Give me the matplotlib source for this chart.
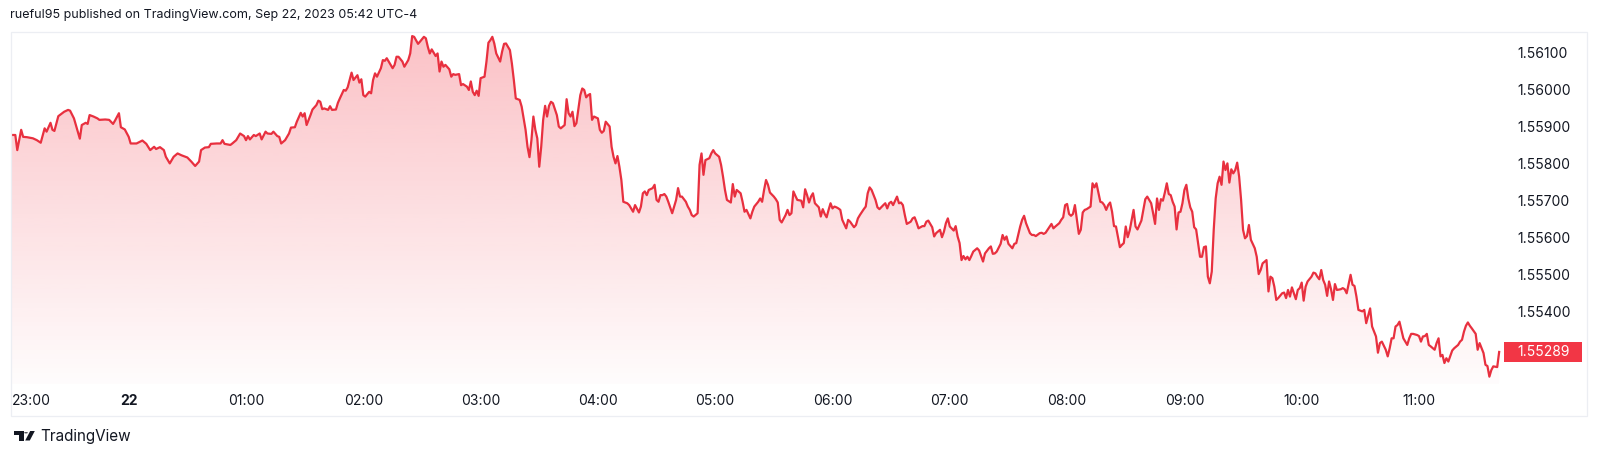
import matplotlib
matplotlib.use("Agg")
import matplotlib.pyplot as plt
import matplotlib.dates as mdates
import numpy as np
from datetime import datetime, timedelta
from matplotlib.patches import Rectangle, Polygon, Circle
from matplotlib.transforms import blended_transform_factory

# ---------------- data ----------------
title_text = "rueful95 published on TradingView.com, Sep 22, 2023 05:42 UTC-4"
brand_text = "TradingView"

times = [
    "23:00", "23:02", "23:03", "23:05", "23:06", "23:08", "23:11", "23:13", "23:15", "23:17",
    "23:18", "23:20", "23:21", "23:22", "23:24", "23:27", "23:29", "23:30", "23:32", "23:33",
    "23:35", "23:36", "23:38", "23:39", "23:40", "23:42", "23:44", "23:45", "23:48", "23:50",
    "23:52", "23:53", "23:55", "23:56", "23:58", "00:00", "00:01", "00:04", "00:07", "00:09",
    "00:11", "00:13", "00:14", "00:16", "00:18", "00:19", "00:21", "00:23", "00:25", "00:27",
    "00:29", "00:30", "00:32", "00:34", "00:36", "00:37", "00:39", "00:41", "00:42", "00:45",
    "00:47", "00:48", "00:49", "00:52", "00:53", "00:55", "00:57", "00:59", "01:00", "01:01",
    "01:02", "01:04", "01:05", "01:07", "01:08", "01:10", "01:11", "01:13", "01:14", "01:16",
    "01:17", "01:18", "01:20", "01:22", "01:23", "01:25", "01:26", "01:28", "01:29", "01:30",
    "01:31", "01:33", "01:34", "01:36", "01:37", "01:38", "01:39", "01:40", "01:42", "01:43",
    "01:44", "01:46", "01:47", "01:48", "01:50", "01:51", "01:52", "01:54", "01:55", "01:57",
    "01:58", "01:59", "02:00", "02:01", "02:03", "02:04", "02:05", "02:06", "02:07", "02:09",
    "02:10", "02:11", "02:12", "02:14", "02:15", "02:16", "02:17", "02:18",
    "02:20", "02:21", "02:23", "02:24", "02:25", "02:26", "02:28", "02:29", "02:31", "02:32",
    "02:33", "02:34", "02:35", "02:37", "02:38", "02:39", "02:40", "02:41", "02:42", "02:44",
    "02:45", "02:46", "02:47", "02:49", "02:50", "02:51", "02:53", "02:54", "02:55", "02:56",
    "02:57", "02:58", "02:59", "03:00", "03:02", "03:03", "03:04", "03:05", "03:06", "03:07",
    "03:08", "03:10", "03:11", "03:12", "03:13", "03:15", "03:16", "03:17", "03:18", "03:20",
    "03:21", "03:23", "03:24", "03:25", "03:26", "03:27", "03:28", "03:29", "03:30", "03:31",
    "03:32", "03:33", "03:34", "03:35", "03:36", "03:37", "03:39", "03:40", "03:41", "03:43",
    "03:44", "03:45", "03:46", "03:47", "03:48", "03:49", "03:51", "03:52", "03:53", "03:54",
    "03:55", "03:56", "03:57", "03:58", "04:00", "04:01", "04:02", "04:03", "04:04", "04:06",
    "04:07", "04:08", "04:09", "04:10", "04:11", "04:12", "04:13", "04:15", "04:16", "04:17",
    "04:18", "04:19", "04:21", "04:22", "04:23", "04:24", "04:25", "04:26", "04:28", "04:29",
    "04:30", "04:31", "04:32", "04:33", "04:34", "04:35", "04:36", "04:38", "04:39", "04:40",
    "04:41", "04:42", "04:43", "04:45", "04:46", "04:47", "04:48", "04:49", "04:51", "04:52",
    "04:53", "04:54", "04:55", "04:57", "04:58", "04:59", "05:00", "05:02", "05:03", "05:04",
    "05:05", "05:06", "05:08", "05:09", "05:10", "05:11", "05:13", "05:14", "05:15", "05:16",
    "05:18", "05:19", "05:20", "05:22", "05:23", "05:24", "05:25", "05:26", "05:27", "05:28",
    "05:30", "05:31", "05:32",
    "05:33", "05:34", "05:36", "05:37", "05:38", "05:39", "05:40", "05:41", "05:42", "05:44",
    "05:45", "05:46", "05:47", "05:48", "05:49", "05:50", "05:51", "05:53", "05:54", "05:55",
    "05:56", "05:57", "05:58", "05:59", "06:00", "06:01", "06:02", "06:03", "06:04", "06:05",
    "06:07", "06:08", "06:09", "06:11", "06:12", "06:13", "06:14", "06:16", "06:17", "06:18",
    "06:19", "06:20", "06:22", "06:23", "06:24", "06:26", "06:27", "06:28", "06:29", "06:30",
    "06:31", "06:33", "06:34", "06:35", "06:36", "06:37", "06:38", "06:40", "06:41", "06:42",
    "06:43", "06:44", "06:46", "06:47", "06:48", "06:49", "06:51", "06:52", "06:53", "06:55",
    "06:56", "06:57", "06:58", "06:59", "07:00", "07:02", "07:03", "07:04", "07:05", "07:06",
    "07:07", "07:08", "07:09", "07:10", "07:11", "07:12", "07:14", "07:15", "07:16", "07:17",
    "07:18", "07:20", "07:21", "07:22", "07:23", "07:24", "07:26", "07:27", "07:28", "07:29",
    "07:30", "07:32", "07:33", "07:34", "07:36", "07:37", "07:38", "07:39", "07:41", "07:42",
    "07:43", "07:44", "07:46", "07:47", "07:48", "07:49", "07:50", "07:52", "07:53", "07:54",
    "07:56",
    "07:57", "07:58", "07:59", "08:00", "08:01", "08:02", "08:03", "08:04", "08:06", "08:07",
    "08:08", "08:09", "08:10", "08:12", "08:13", "08:14", "08:15", "08:17", "08:18", "08:19",
    "08:20", "08:21", "08:22", "08:23", "08:24", "08:25", "08:27", "08:28", "08:29", "08:30",
    "08:31", "08:32", "08:34", "08:35", "08:36", "08:37", "08:38", "08:39", "08:40", "08:41",
    "08:43", "08:44", "08:45", "08:46", "08:47", "08:48", "08:49", "08:50", "08:51", "08:52",
    "08:53", "08:54", "08:55", "08:56", "08:57", "08:58", "08:59", "09:00", "09:01", "09:02",
    "09:03", "09:04", "09:05", "09:06", "09:07", "09:08", "09:09", "09:10", "09:11", "09:12",
    "09:13", "09:14", "09:15", "09:16", "09:17", "09:18", "09:19", "09:20", "09:21", "09:22",
    "09:23", "09:24", "09:25", "09:26", "09:27", "09:28", "09:29", "09:30", "09:31", "09:32",
    "09:33", "09:34", "09:36", "09:37", "09:38", "09:39", "09:40", "09:42", "09:43", "09:44",
    "09:45", "09:46", "09:47", "09:48", "09:50", "09:51", "09:52", "09:53", "09:54", "09:55",
    "09:57", "09:58", "09:59", "10:00", "10:01", "10:02", "10:03", "10:05", "10:06", "10:07",
    "10:08", "10:09", "10:10", "10:11", "10:12", "10:13", "10:14", "10:15", "10:16", "10:17",
    "10:18", "10:20", "10:21", "10:22", "10:23", "10:25", "10:26", "10:27", "10:28", "10:29",
    "10:31", "10:32", "10:33", "10:34", "10:35", "10:36", "10:38", "10:39", "10:40", "10:41",
    "10:43", "10:44", "10:45", "10:46", "10:47", "10:48", "10:49", "10:50", "10:51", "10:52",
    "10:54", "10:55", "10:56", "10:57", "10:59", "11:00", "11:01", "11:02", "11:03", "11:04",
    "11:05", "11:06", "11:08", "11:09", "11:10", "11:11", "11:12", "11:13", "11:14", "11:15",
    "11:16", "11:17", "11:18", "11:20", "11:21", "11:22", "11:23", "11:24", "11:25", "11:26",
    "11:27", "11:29", "11:30", "11:31", "11:33", "11:34", "11:35", "11:36", "11:37", "11:38",
    "11:40", "11:41",
]

prices = [
    1.55877, 1.55877, 1.55836, 1.55891, 1.55872, 1.55871, 1.55868, 1.55863, 1.55856, 1.55895,
    1.55886, 1.55910, 1.55891, 1.55888, 1.55928, 1.55940, 1.55945, 1.55943, 1.55922, 1.55904,
    1.55867, 1.55904, 1.55910, 1.55907, 1.55931, 1.55927, 1.55922, 1.55918, 1.55919, 1.55918,
    1.55907, 1.55916, 1.55936, 1.55898, 1.55892, 1.55872, 1.55854, 1.55854, 1.55862, 1.55853,
    1.55836, 1.55845, 1.55839, 1.55844, 1.55836, 1.55818, 1.55800, 1.55818, 1.55827, 1.55822,
    1.55818, 1.55816, 1.55805, 1.55793, 1.55805, 1.55836, 1.55843, 1.55844, 1.55853, 1.55854,
    1.55854, 1.55863, 1.55853, 1.55850, 1.55854, 1.55863, 1.55881, 1.55874, 1.55863, 1.55874,
    1.55865, 1.55877, 1.55874, 1.55881, 1.55865, 1.55886, 1.55881, 1.55880, 1.55886, 1.55874,
    1.55872, 1.55854, 1.55863, 1.55881, 1.55897, 1.55898, 1.55913, 1.55937, 1.55927, 1.55936,
    1.55904, 1.55931, 1.55946, 1.55958, 1.55970, 1.55967, 1.55947, 1.55949, 1.55945, 1.55955,
    1.55945, 1.55946, 1.55964, 1.55976, 1.55999, 1.55997, 1.56006, 1.56046, 1.56026, 1.56039,
    1.56019, 1.56028, 1.55985, 1.55981, 1.55994, 1.55990, 1.56026, 1.56044, 1.56035, 1.56058,
    1.56080, 1.56078, 1.56085, 1.56067, 1.56058, 1.56067, 1.56089, 1.56089,
    1.56076, 1.56062, 1.56080, 1.56098, 1.56145, 1.56143, 1.56124, 1.56130, 1.56143, 1.56139,
    1.56116, 1.56098, 1.56109, 1.56091, 1.56098, 1.56049, 1.56076, 1.56062, 1.56067, 1.56055,
    1.56035, 1.56042, 1.56040, 1.56042, 1.56012, 1.56015, 1.56008, 1.55999, 1.56022, 1.55994,
    1.55985, 1.55997, 1.55983, 1.56031, 1.56035, 1.56076, 1.56127, 1.56134, 1.56143, 1.56125,
    1.56098, 1.56076, 1.56103, 1.56124, 1.56125, 1.56107, 1.56071, 1.56026, 1.55976, 1.55972,
    1.55954, 1.55891, 1.55845, 1.55817, 1.55863, 1.55927, 1.55891, 1.55868, 1.55791, 1.55845,
    1.55918, 1.55956, 1.55927, 1.55956, 1.55967, 1.55963, 1.55931, 1.55900, 1.55895, 1.55904,
    1.55974, 1.55936, 1.55927, 1.55940, 1.55901, 1.55909, 1.55985, 1.56003, 1.55999, 1.55979,
    1.55985, 1.55988, 1.55918, 1.55927, 1.55922, 1.55891, 1.55883, 1.55888, 1.55913, 1.55900,
    1.55845, 1.55818, 1.55800, 1.55820, 1.55791, 1.55755, 1.55696, 1.55692, 1.55687, 1.55678,
    1.55669, 1.55687, 1.55667, 1.55683, 1.55719, 1.55724, 1.55714, 1.55728, 1.55733, 1.55742,
    1.55701, 1.55696, 1.55714, 1.55714, 1.55717, 1.55710, 1.55696, 1.55665, 1.55683, 1.55701,
    1.55733, 1.55710, 1.55710, 1.55696, 1.55683, 1.55674, 1.55660, 1.55656, 1.55665, 1.55796,
    1.55827, 1.55769, 1.55809, 1.55814, 1.55827, 1.55836, 1.55827, 1.55818, 1.55796, 1.55764,
    1.55728, 1.55701, 1.55694, 1.55744, 1.55710, 1.55728, 1.55719, 1.55696, 1.55669, 1.55674,
    1.55651, 1.55669, 1.55683, 1.55696, 1.55705, 1.55696, 1.55728, 1.55755, 1.55742, 1.55721,
    1.55710, 1.55703, 1.55694,
    1.55647, 1.55640, 1.55660, 1.55674, 1.55660, 1.55665, 1.55724, 1.55712, 1.55701, 1.55699,
    1.55681, 1.55730, 1.55714, 1.55694, 1.55710, 1.55719, 1.55692, 1.55681, 1.55656, 1.55676,
    1.55663, 1.55654, 1.55674, 1.55692, 1.55678, 1.55683, 1.55681, 1.55678, 1.55674, 1.55647,
    1.55624, 1.55647, 1.55642, 1.55627, 1.55633, 1.55651, 1.55660, 1.55676, 1.55683, 1.55719,
    1.55735, 1.55728, 1.55701, 1.55681, 1.55676, 1.55687, 1.55692, 1.55678, 1.55692, 1.55696,
    1.55687, 1.55710, 1.55692, 1.55694, 1.55687, 1.55660, 1.55636, 1.55642, 1.55651, 1.55654,
    1.55640, 1.55624, 1.55630, 1.55630, 1.55642, 1.55645, 1.55627, 1.55602, 1.55611, 1.55620,
    1.55600, 1.55615, 1.55638, 1.55651, 1.55629, 1.55618, 1.55630, 1.55602, 1.55584, 1.55538,
    1.55549, 1.55540, 1.55547, 1.55538, 1.55549, 1.55561, 1.55570, 1.55564, 1.55549, 1.55534,
    1.55556, 1.55570, 1.55575, 1.55555, 1.55556, 1.55561, 1.55582, 1.55606, 1.55593, 1.55602,
    1.55582, 1.55570, 1.55582, 1.55584, 1.55629, 1.55647, 1.55658, 1.55638, 1.55611, 1.55606,
    1.55606, 1.55603, 1.55611, 1.55612, 1.55609, 1.55612, 1.55620, 1.55636, 1.55624, 1.55629,
    1.55638,
    1.55647, 1.55654, 1.55687, 1.55690, 1.55663, 1.55658, 1.55663, 1.55687, 1.55609, 1.55620,
    1.55667, 1.55674, 1.55676, 1.55683, 1.55746, 1.55735, 1.55746, 1.55696, 1.55694, 1.55687,
    1.55674, 1.55687, 1.55694, 1.55669, 1.55630, 1.55629, 1.55573, 1.55579, 1.55584, 1.55629,
    1.55600, 1.55618, 1.55674, 1.55629, 1.55621, 1.55633, 1.55645, 1.55674, 1.55703, 1.55710,
    1.55692, 1.55665, 1.55636, 1.55705, 1.55674, 1.55703, 1.55699, 1.55721, 1.55746, 1.55717,
    1.55714, 1.55696, 1.55683, 1.55621, 1.55667, 1.55669, 1.55692, 1.55728, 1.55742, 1.55705,
    1.55681, 1.55669, 1.55627, 1.55621, 1.55584, 1.55547, 1.55547, 1.55573, 1.55575, 1.55493,
    1.55475, 1.55507, 1.55620, 1.55705, 1.55746, 1.55764, 1.55742, 1.55805, 1.55782, 1.55800,
    1.55748, 1.55784, 1.55773, 1.55782, 1.55802, 1.55764, 1.55701, 1.55620, 1.55597, 1.55603,
    1.55633, 1.55593, 1.55570, 1.55547, 1.55500, 1.55511, 1.55529, 1.55538, 1.55453, 1.55493,
    1.55489, 1.55466, 1.55430, 1.55435, 1.55448, 1.55450, 1.55435, 1.55457, 1.55439, 1.55464,
    1.55432, 1.55457, 1.55462, 1.55477, 1.55428, 1.55466, 1.55480, 1.55493, 1.55504, 1.55502,
    1.55493, 1.55486, 1.55511, 1.55484, 1.55471, 1.55441, 1.55480, 1.55459, 1.55430, 1.55473,
    1.55457, 1.55459, 1.55462, 1.55459, 1.55448, 1.55498, 1.55471, 1.55468, 1.55439, 1.55403,
    1.55399, 1.55403, 1.55367, 1.55387, 1.55407, 1.55358, 1.55331, 1.55287, 1.55313, 1.55317,
    1.55295, 1.55277, 1.55299, 1.55326, 1.55326, 1.55358, 1.55362, 1.55371, 1.55349, 1.55326,
    1.55308, 1.55326, 1.55338, 1.55338, 1.55335, 1.55332, 1.55317, 1.55331, 1.55332, 1.55338,
    1.55308, 1.55304, 1.55295, 1.55313, 1.55326, 1.55277, 1.55281, 1.55259, 1.55272, 1.55263,
    1.55278, 1.55293, 1.55299, 1.55308, 1.55317, 1.55322, 1.55344, 1.55360, 1.55369, 1.55360,
    1.55353, 1.55338, 1.55295, 1.55313, 1.55286, 1.55254, 1.55251, 1.55222, 1.55240, 1.55250,
    1.55248, 1.55289,
]

x_tick_times = ["23:00", "00:00", "01:00", "02:00", "03:00", "04:00", "05:00",
                "06:00", "07:00", "08:00", "09:00", "10:00", "11:00"]
x_tick_labels = ["23:00", "22", "01:00", "02:00", "03:00", "04:00", "05:00",
                 "06:00", "07:00", "08:00", "09:00", "10:00", "11:00"]
y_ticks = [1.554, 1.555, 1.556, 1.557, 1.558, 1.559, 1.560, 1.561]

# ---------------- helpers ----------------
def to_dt(s):
    h, m = map(int, s.split(":"))
    day = 21 if h >= 23 else 22
    return datetime(2023, 9, day, h, m)

assert len(times) == len(prices)
dts = [to_dt(t) for t in times]
xn = mdates.date2num(dts)

W, H = 1600, 458
FONT = ["Inter", "DejaVu Sans"]
TXT = "#131722"
RED = "#E8303F"
LABEL_RED = "#F23645"

plt.rcParams["font.family"] = FONT

fig = plt.figure(figsize=(W / 100, H / 100), dpi=100)
fig.patch.set_facecolor("white")

def fx(x):
    return x / W

def fy(y):
    return 1 - y / H

# plot pane geometry (pixels)
pl, pr, pt, pb = 11.4, 1504.0, 32.0, 384.0
ax = fig.add_axes([fx(pl), fy(pb), fx(pr - pl), (pb - pt) / H])
ax.set_facecolor("none")

px_per_hour = 117.3
x0 = mdates.date2num(to_dt("23:00"))
x1 = x0 + (pr - pl) / px_per_hour / 24.0
ylo, yhi = 1.5520217, 1.561561

# gradient area fill
grad = np.linspace(0, 1, 256)
rgba = np.zeros((256, 1, 4))
rgba[:, 0, 0] = 242 / 255
rgba[:, 0, 1] = 54 / 255
rgba[:, 0, 2] = 69 / 255
rgba[:, 0, 3] = 0.015 + 0.29 * grad
im = ax.imshow(rgba, aspect="auto", origin="lower",
               extent=[x0, x1, ylo, max(prices)], zorder=1, interpolation="bilinear")
fb = ax.fill_between(xn, prices, ylo, facecolor="none", edgecolor="none")
im.set_clip_path(fb.get_paths()[0], transform=ax.transData)

ax.plot(xn, prices, color=RED, lw=1.6, solid_joinstyle="round", zorder=3)

ax.set_xlim(x0, x1)
ax.set_ylim(ylo, yhi)
for s in ax.spines.values():
    s.set_visible(False)

# y axis on the right
ax.yaxis.tick_right()
ax.set_yticks(y_ticks)
ax.set_yticklabels([f"{v:.5f}" for v in y_ticks])
ax.tick_params(axis="y", length=0, pad=(1517 - pr) * 0.72, labelsize=10, labelcolor=TXT)

# x axis
ax.set_xticks(mdates.date2num([to_dt(t) for t in x_tick_times]))
ax.set_xticklabels(x_tick_labels)
ax.tick_params(axis="x", length=0, pad=7, labelsize=10, labelcolor=TXT)
xt = ax.get_xticklabels()
xt[0].set_horizontalalignment("left")
for lab in xt:
    if lab.get_text() == "22":
        lab.set_fontweight("bold")

# last price label
last = prices[-1]
bt = blended_transform_factory(ax.transAxes, ax.transData)
box_h = 19.5 / (pb - pt) * (yhi - ylo)
box_w = 77.5 / (pr - pl)
ax.add_patch(Rectangle((1.0, last - box_h / 2), box_w, box_h, transform=bt,
                       facecolor=LABEL_RED, edgecolor="none", clip_on=False, zorder=5))
ax.text(1.0 + (1517 - pr) / (pr - pl), last, f"{last:.5f}", transform=bt,
        ha="left", va="center", fontsize=10, color="white", zorder=6, clip_on=False)

# outer frame
fig.patches.append(Rectangle((fx(11), fy(416)), fx(1587 - 11), (416 - 32) / H,
                             transform=fig.transFigure, facecolor="none",
                             edgecolor="#eceef3", lw=0.9, zorder=0))

# title
fig.text(fx(10), fy(15), title_text, ha="left", va="center", fontsize=9.0, color=TXT)

# TradingView logo
logo_c = "#131722"
fig.patches.append(Polygon([(fx(13.5), fy(431)), (fx(23.5), fy(431)), (fx(23.5), fy(440.5)),
                            (fx(18.5), fy(440.5)), (fx(18.5), fy(434.6)), (fx(13.5), fy(434.6))],
                           closed=True, transform=fig.transFigure, facecolor=logo_c, edgecolor="none"))
fig.patches.append(Circle((fx(26.0), fy(432.8)), 1.9 / W, transform=fig.transFigure,
                          facecolor=logo_c, edgecolor="none"))
fig.patches.append(Polygon([(fx(25.2), fy(440.5)), (fx(29.8), fy(440.5)), (fx(34.8), fy(431)),
                            (fx(30.2), fy(431))],
                           closed=True, transform=fig.transFigure, facecolor=logo_c, edgecolor="none"))
fig.text(fx(40.5), fy(437.0), brand_text, ha="left", va="center", fontsize=11.0, color=TXT)

fig.savefig("out.png", dpi=100, facecolor="white")
